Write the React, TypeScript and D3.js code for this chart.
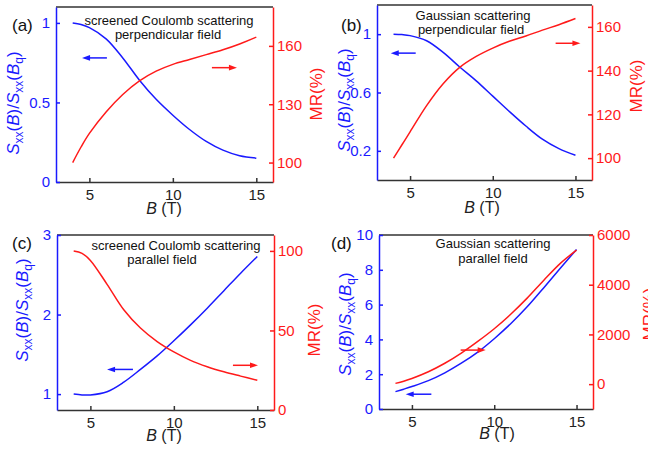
import React, { useEffect, useRef } from "react";
import * as d3 from "d3";

// magnetic field values (T) shared by all curves
const fieldB = [4, 4.5, 5, 6, 7, 8, 9, 10, 11, 12, 13, 14, 15];

// (a) screened Coulomb, perpendicular
const sxxA = [1.0, 0.99, 0.97, 0.9, 0.78, 0.64, 0.52, 0.42, 0.33, 0.255, 0.2, 0.165, 0.15];
const mrA = [100, 108, 115, 126, 135, 142, 147, 150.5, 153, 155.5, 158, 161, 164.5];
// (b) Gaussian, perpendicular
const sxxB = [1.0, 0.997, 0.99, 0.955, 0.875, 0.775, 0.68, 0.575, 0.47, 0.37, 0.28, 0.215, 0.17];
const mrB = [100, 106, 112, 124, 134, 141.5, 146.5, 150.3, 153.4, 155.8, 158.5, 161, 163.8];
// (c) screened Coulomb, parallel
const sxxC = [1.0, 0.99, 0.99, 1.03, 1.15, 1.31, 1.48, 1.67, 1.87, 2.08, 2.3, 2.52, 2.73];
const mrC = [100, 98.5, 94, 79, 63, 51.5, 43, 36.5, 31.2, 27.2, 24, 21.3, 18.7];
// (d) Gaussian, parallel
const sxxD = [1.0, 1.14, 1.29, 1.63, 2.08, 2.63, 3.27, 4.04, 4.9, 5.87, 6.96, 8.08, 9.17];
const mrD = [30, 120, 230, 500, 840, 1250, 1720, 2230, 2810, 3460, 4170, 4850, 5390];

const xTicks = [5, 10, 15];
const leftTicksA = [0, 0.5, 1];
const rightTicksA = [100, 130, 160];
const leftTicksB = [0.2, 0.6, 1];
const rightTicksB = [100, 120, 140, 160];
const leftTicksC = [1, 2, 3];
const rightTicksC = [0, 50, 100];
const leftTicksD = [0, 2, 4, 6, 8, 10];
const rightTicksD = [0, 2000, 4000, 6000];

const notesA = ["screened Coulomb scattering", "perpendicular field"];
const notesB = ["Gaussian scattering", "perpendicular field"];
const notesC = ["screened Coulomb scattering", "parallel field"];
const notesD = ["Gaussian scattering", "parallel field"];

const BLUE = "#1a1aff";
const RED = "#ff1a1a";
const DARK = "#333";
const FONT = "'Liberation Sans', Arial, sans-serif";

const panels = [
  {
    label: "(a)", sxx: sxxA, mr: mrA, notes: notesA,
    left: [0, 1.1], leftTicks: leftTicksA, right: [90, 180], rightTicks: rightTicksA,
    box: { x0: 56, x1: 273, y0: 7, y1: 182 },
    labelAt: [12, 31], noteAt: [[169, 25], [168, 39]],
    yLab: [19, 103], mrLab: [322, 94], bLab: [164, 214],
    leftArrow: [6.05, 4.56, 0.78], rightArrow: [12.34, 13.84, 148.8],
  },
  {
    label: "(b)", sxx: sxxB, mr: mrB, notes: notesB,
    left: [0, 1.2], leftTicks: leftTicksB, right: [90, 170], rightTicks: rightTicksB,
    box: { x0: 377, x1: 592, y0: 5, y1: 180 },
    labelAt: [341, 31], noteAt: [[473, 20], [471, 34]],
    yLab: [350, 100], mrLab: [642, 86], bLab: [482, 213],
    leftArrow: [5.34, 3.83, 0.87], rightArrow: [13.8, 15.3, 152.5],
  },
  {
    label: "(c)", sxx: sxxC, mr: mrC, notes: notesC,
    left: [0.8, 3], leftTicks: leftTicksC, right: [0, 110], rightTicks: rightTicksC,
    box: { x0: 57, x1: 274, y0: 235, y1: 410 },
    labelAt: [12, 249], noteAt: [[176, 250], [162, 264]],
    yLab: [28, 310], mrLab: [320, 330], bLab: [164, 441],
    leftArrow: [7.55, 6.0, 1.31], rightArrow: [13.54, 15.04, 28.1],
  },
  {
    label: "(d)", sxx: sxxD, mr: mrD, notes: notesD,
    left: [0, 10], leftTicks: leftTicksD, right: [-1000, 6000], rightTicks: rightTicksD,
    box: { x0: 379, x1: 593, y0: 235, y1: 409 },
    labelAt: [331, 249], noteAt: [[493, 248], [493, 263]],
    yLab: [351, 324], mrLab: [655, 314], bLab: [497, 439],
    leftArrow: [6.18, 4.62, 0.85], rightArrow: [7.96, 9.48, 1370],
  },
];

function styleAxis(sel, color, textColor) {
  sel.selectAll("path, line").attr("stroke", color).attr("stroke-width", 1.5);
  sel.selectAll("text").attr("fill", textColor).style("font-size", "15px").style("font-family", FONT);
}

function drawArrow(g, x1, x2, y, color) {
  const dir = x2 > x1 ? 1 : -1;
  g.append("line")
    .attr("x1", x1).attr("x2", x2 - dir * 6).attr("y1", y).attr("y2", y)
    .attr("stroke", color).attr("stroke-width", 1.5);
  g.append("path")
    .attr("d", `M${x2},${y} L${x2 - dir * 8},${y - 2.8} L${x2 - dir * 8},${y + 2.8} Z`)
    .attr("fill", color);
}

export default function App() {
  const ref = useRef(null);

  useEffect(() => {
    const svg = d3.select(ref.current);
    svg.selectAll("*").remove();

    panels.forEach((p) => {
      const { x0, x1, y0, y1 } = p.box;
      const g = svg.append("g");
      const x = d3.scaleLinear().domain([3, 16]).range([x0, x1]);
      const yL = d3.scaleLinear().domain(p.left).range([y1, y0]);
      const yR = d3.scaleLinear().domain(p.right).range([y1, y0]);

      // top frame
      g.append("line")
        .attr("x1", x0).attr("x2", x1).attr("y1", y0).attr("y2", y0)
        .attr("stroke", DARK).attr("stroke-width", 1.5);

      g.append("g")
        .attr("transform", `translate(0,${y1})`)
        .call(d3.axisBottom(x).tickValues(xTicks).tickSize(-4).tickSizeOuter(0).tickPadding(7))
        .call((s) => styleAxis(s, DARK, "#222"));

      g.append("g")
        .attr("transform", `translate(${x0},0)`)
        .call(d3.axisLeft(yL).tickValues(p.leftTicks).tickSize(-4).tickSizeOuter(0).tickPadding(6).tickFormat(d3.format("~g")))
        .call((s) => styleAxis(s, BLUE, BLUE));

      g.append("g")
        .attr("transform", `translate(${x1},0)`)
        .call(d3.axisRight(yR).tickValues(p.rightTicks).tickSize(-4).tickSizeOuter(0).tickPadding(4).tickFormat(d3.format("d")))
        .call((s) => styleAxis(s, RED, RED));

      const curve = d3.curveCatmullRom.alpha(0.5);
      const blueLine = d3.line().x((d, i) => x(fieldB[i])).y((d) => yL(d)).curve(curve);
      const redLine = d3.line().x((d, i) => x(fieldB[i])).y((d) => yR(d)).curve(curve);

      g.append("path").attr("d", blueLine(p.sxx)).attr("fill", "none").attr("stroke", BLUE).attr("stroke-width", 1.5);
      g.append("path").attr("d", redLine(p.mr)).attr("fill", "none").attr("stroke", RED).attr("stroke-width", 1.5);

      drawArrow(g, x(p.leftArrow[0]), x(p.leftArrow[1]), yL(p.leftArrow[2]), BLUE);
      drawArrow(g, x(p.rightArrow[0]), x(p.rightArrow[1]), yR(p.rightArrow[2]), RED);

      // annotations
      p.notes.forEach((t, i) => {
        g.append("text")
          .attr("x", p.noteAt[i][0]).attr("y", p.noteAt[i][1])
          .attr("text-anchor", "middle")
          .style("font-size", "13px").style("font-family", FONT)
          .attr("fill", "#111")
          .text(t);
      });

      g.append("text")
        .attr("x", p.labelAt[0]).attr("y", p.labelAt[1])
        .style("font-size", "17px").style("font-family", FONT)
        .attr("fill", "#111")
        .text(p.label);

      // x label
      const bl = g.append("text")
        .attr("x", p.bLab[0]).attr("y", p.bLab[1])
        .attr("text-anchor", "middle")
        .style("font-size", "16px").style("font-family", FONT)
        .attr("fill", "#222");
      bl.append("tspan").attr("font-style", "italic").text("B");
      bl.append("tspan").text(" (T)");

      // left y label
      const yl = g.append("text")
        .attr("transform", `translate(${p.yLab[0]},${p.yLab[1]}) rotate(-90)`)
        .attr("text-anchor", "middle")
        .style("font-size", "17px").style("font-family", FONT)
        .attr("fill", BLUE);
      const parts = [
        ["S", "it", 0], ["xx", "sub", 4], ["(", "", -4], ["B", "it", 0], [")/", "", 0],
        ["S", "it", 0], ["xx", "sub", 4], ["(", "", -4], ["B", "it", 0], ["q", "sub", 4], [")", "", -4],
      ];
      parts.forEach(([t, kind, dy]) => {
        const ts = yl.append("tspan").attr("dy", dy).text(t);
        if (kind === "it") ts.attr("font-style", "italic");
        if (kind === "sub") ts.attr("font-size", "12px");
      });

      g.append("text")
        .attr("transform", `translate(${p.mrLab[0]},${p.mrLab[1]}) rotate(-90)`)
        .attr("text-anchor", "middle")
        .style("font-size", "17px").style("font-family", FONT)
        .attr("fill", RED)
        .text("MR(%)");
    });
  }, []);

  return (
    <svg
      ref={ref}
      width={648}
      height={454}
      style={{ position: "absolute", left: 0, top: 0, background: "#fff" }}
    />
  );
}
